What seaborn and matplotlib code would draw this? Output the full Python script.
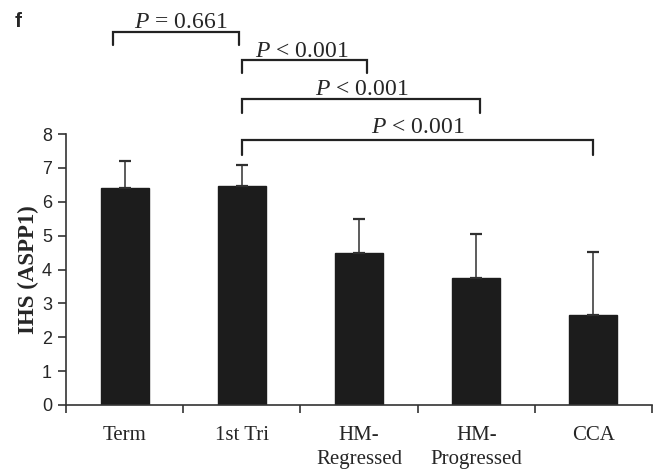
import matplotlib
matplotlib.use("Agg")
import matplotlib.pyplot as plt
import seaborn as sns
import pandas as pd

categories = ["Term", "1st Tri", "HM-\nRegressed", "HM-\nProgressed", "CCA"]
means = [6.42, 6.46, 4.50, 3.75, 2.65]
sds = [0.79, 0.62, 0.98, 1.29, 1.88]
yticks = [0, 1, 2, 3, 4, 5, 6, 7, 8]
comparisons = [(0, 1, "= 0.661"), (1, 2, "< 0.001"), (1, 3, "< 0.001"), (1, 4, "< 0.001")]

sns.set_style("white")
plt.rcParams["font.family"] = ["Liberation Sans", "DejaVu Sans"]
plt.rcParams["mathtext.fontset"] = "custom"
plt.rcParams["mathtext.it"] = "Liberation Serif:italic"
plt.rcParams["mathtext.rm"] = "Liberation Serif"

fig = plt.figure(figsize=(6.62, 4.72), dpi=100)
ax = fig.add_axes([0.0997, 0.142, 0.8853, 0.574])

df = pd.DataFrame({"cat": categories, "val": means})
sns.barplot(data=df, x="cat", y="val", color="#1c1c1c", saturation=1,
            width=0.41, errorbar=None, ax=ax, edgecolor="#1c1c1c")

xs = list(range(len(categories)))
ax.errorbar(xs, means, yerr=[[0] * len(sds), sds], fmt="none",
            ecolor="#303030", elinewidth=1.1, capsize=4, capthick=1.6)

ax.set_xlim(-0.5, 4.5)
ax.set_ylim(0, 8)
ax.set_yticks(yticks)
ax.set_yticklabels([str(t) for t in yticks], fontsize=13)

ax.set_xticks([-0.5, 0.5, 1.5, 2.5, 3.5, 4.5])
ax.set_xticklabels([])
ax.set_xticks(xs, minor=True)
ax.set_xticklabels(categories, minor=True, fontsize=15, family="Liberation Serif",
                   linespacing=1.4)
ax.tick_params(axis="x", which="minor", length=0, pad=15)
ax.tick_params(axis="x", which="major", direction="out", length=6, width=1.2,
               color="#333333", bottom=True)
ax.tick_params(axis="y", direction="out", length=6, width=1.2, color="#333333",
               left=True, pad=4)
ax.set_xlabel("")
ax.set_ylabel("IHS (ASPP1)", fontsize=16.5, fontweight="bold",
              family="Liberation Serif", labelpad=2)

for s in ["top", "right"]:
    ax.spines[s].set_visible(False)
for s in ["left", "bottom"]:
    ax.spines[s].set_color("#333333")
    ax.spines[s].set_linewidth(1.2)

# significance brackets (data coords, drawn above the axes)
bracket_y = [11.0, 10.18, 9.03, 7.82]
drop = [0.38, 0.38, 0.42, 0.45]
x_adj = [(-0.1, -0.02), (0.0, 0.07), (0.0, 0.03), (0.0, 0.0)]
text_x = [0.48, 1.51, 2.02, 2.5]
text_y = [11.12, 10.27, 9.14, 8.02]
for (a, b, lab), y, d, (da, db), tx, ty in zip(comparisons, bracket_y, drop, x_adj, text_x, text_y):
    xa, xb = a + da, b + db
    ax.plot([xa, xa, xb, xb], [y - d, y, y, y - d], color="#222222", lw=1.6,
            clip_on=False, solid_joinstyle="miter")
    ax.text(tx, ty, r"$\it{P}$ " + lab, ha="center", va="baseline", fontsize=17,
            family="Liberation Serif", clip_on=False)

fig.text(0.022, 0.955, "f", fontsize=15, fontweight="bold", va="center", ha="left")

fig.savefig("out.png", dpi=100)
